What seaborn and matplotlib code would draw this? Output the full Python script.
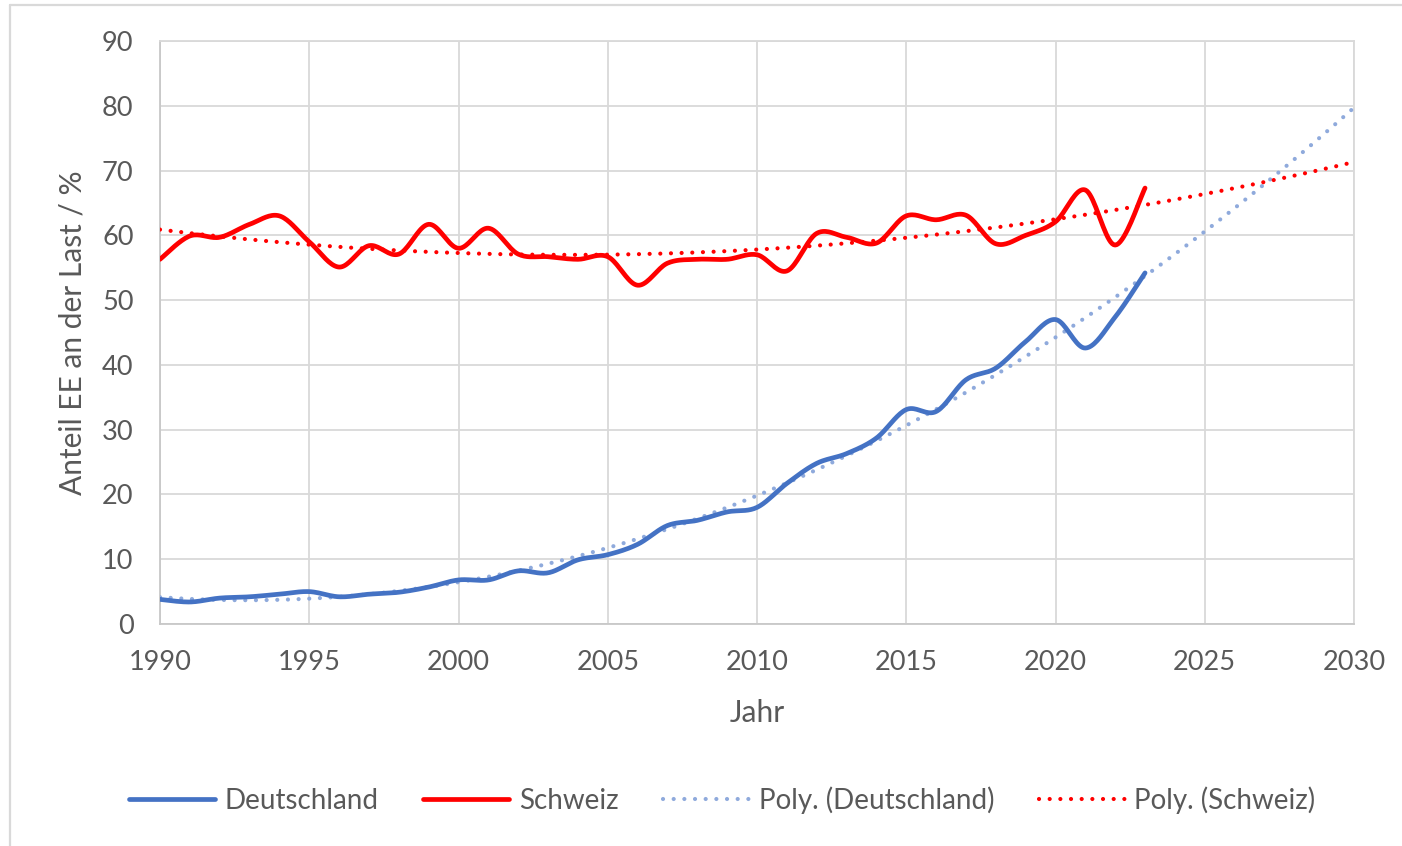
import numpy as np
import pandas as pd
import matplotlib
matplotlib.use("Agg")
import matplotlib.pyplot as plt
import seaborn as sns
from matplotlib.lines import Line2D

years = list(range(1990, 2024))
deutschland = [3.8, 3.4, 4.0, 4.2, 4.6, 5.0, 4.2, 4.6, 4.9, 5.7,
               6.8, 6.8, 8.2, 7.9, 9.9, 10.7, 12.3, 15.2, 16.0, 17.3,
               18.0, 21.7, 24.8, 26.3, 28.7, 33.1, 32.8, 37.7, 39.5, 43.6,
               47.0, 42.6, 47.4, 54.2]
schweiz = [56.3, 59.9, 59.7, 61.7, 63.0, 59.0, 55.1, 58.4, 57.1, 61.7,
           58.0, 61.1, 57.1, 56.7, 56.3, 56.7, 52.3, 55.7, 56.3, 56.3,
           57.0, 54.5, 60.3, 59.7, 58.8, 63.0, 62.4, 63.1, 58.7, 60.0,
           62.1, 67.0, 58.5, 67.3]
series_names = ["Deutschland", "Schweiz"]
trend_names = ["Poly. (Deutschland)", "Poly. (Schweiz)"]
x_ticks = [1990, 1995, 2000, 2005, 2010, 2015, 2020, 2025, 2030]
y_ticks = [0, 10, 20, 30, 40, 50, 60, 70, 80, 90]
trend_end = 2030
poly_order = 2

C_D = "#4472c4"
C_S = "#ff0000"
C_DT = "#8faadc"
C_ST = "#ff0000"
TXT = "#595959"
GRID = "#d9d9d9"
DOT = (0, (0.01, 2.55))
DOT_LW = 3.0


def smooth(x, y, n=20):
    """Excel-like smoothed line (Catmull-Rom Bezier) for drawing."""
    x = np.asarray(x, float)
    y = np.asarray(y, float)
    P = np.column_stack([x, y])
    out = []
    for i in range(len(P) - 1):
        p0 = P[i - 1] if i > 0 else P[i]
        p1 = P[i]
        p2 = P[i + 1]
        p3 = P[i + 2] if i + 2 < len(P) else P[i + 1]
        c1 = p1 + (p2 - p0) / 6.0
        c2 = p2 - (p3 - p1) / 6.0
        t = np.linspace(0, 1, n, endpoint=(i == len(P) - 2))[:, None]
        seg = ((1 - t) ** 3) * p1 + 3 * ((1 - t) ** 2) * t * c1 + 3 * (1 - t) * t ** 2 * c2 + t ** 3 * p2
        out.append(seg)
    out = np.vstack(out)
    return out[:, 0], out[:, 1]


sns.set_theme(style="white")
plt.rcParams["font.family"] = ["Lato", "DejaVu Sans"]

fig = plt.figure(figsize=(14.02, 8.46), dpi=100)
ax = fig.add_axes([160 / 1402, 1 - 624 / 846, (1354 - 160) / 1402, (624 - 41) / 846])

# trendlines
xt = np.linspace(1990, trend_end, 300)
yrs = np.asarray(years, float)
for vals, col in [(deutschland, C_DT), (schweiz, C_ST)]:
    coef = np.polyfit(yrs - 1990, np.asarray(vals), poly_order)
    yt = np.polyval(coef, xt - 1990)
    sns.lineplot(x=xt, y=yt, ax=ax, color=col, lw=DOT_LW, linestyle=DOT,
                 dash_capstyle="round", sort=False, zorder=3)

# data lines
for vals, col in [(deutschland, C_D), (schweiz, C_S)]:
    sx, sy = smooth(years, vals)
    sns.lineplot(x=sx, y=sy, ax=ax, color=col, lw=3.4, sort=False, zorder=4,
                 solid_capstyle="round")

ax.set_xlim(1990, 2030)
ax.set_ylim(0, 90)
ax.set_xticks(x_ticks)
ax.set_yticks(y_ticks)
ax.grid(True, color=GRID, lw=1.3)
ax.set_axisbelow(True)
for s in ["top", "right"]:
    ax.spines[s].set_color(GRID)
    ax.spines[s].set_linewidth(1.3)
for s in ["bottom", "left"]:
    ax.spines[s].set_color("#c8c8c8")
    ax.spines[s].set_linewidth(1.3)
ax.tick_params(axis="both", length=0, labelsize=19.5, labelcolor=TXT)
ax.tick_params(axis="y", pad=19)
ax.tick_params(axis="x", pad=19)
ax.set_xlabel("Jahr", fontsize=21.5, color=TXT, labelpad=17)
ax.set_ylabel("Anteil EE an der Last / %", fontsize=21.5, color=TXT, labelpad=11)

handles = [
    Line2D([], [], color=C_D, lw=3.4, solid_capstyle="round"),
    Line2D([], [], color=C_S, lw=3.4, solid_capstyle="round"),
    Line2D([], [], color=C_DT, lw=DOT_LW, linestyle=DOT, dash_capstyle="round"),
    Line2D([], [], color=C_ST, lw=DOT_LW, linestyle=DOT, dash_capstyle="round"),
]
labels = series_names + trend_names
leg = fig.legend(handles, labels, loc="center", bbox_to_anchor=(722 / 1402, 1 - 800 / 846),
                 ncol=4, frameon=False, fontsize=20, handlelength=3.1,
                 handletextpad=0.35, columnspacing=1.6, labelcolor=TXT)

# outer chart border
fig.add_artist(Line2D([10 / 1402, 1], [1 - 5 / 846, 1 - 5 / 846], transform=fig.transFigure,
                      color=GRID, lw=1.6))
fig.add_artist(Line2D([10 / 1402, 10 / 1402], [0, 1 - 5 / 846], transform=fig.transFigure,
                      color=GRID, lw=1.6))

fig.savefig("out.png", dpi=100)
